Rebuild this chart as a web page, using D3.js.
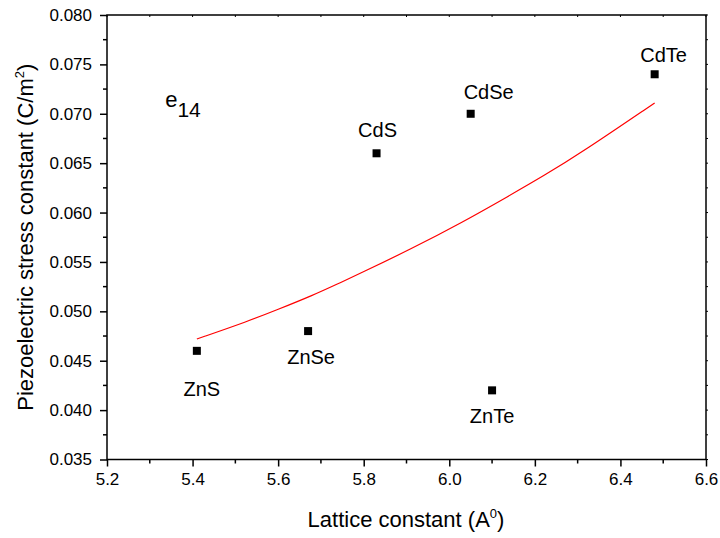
<!DOCTYPE html>
<html>
<head>
<meta charset="utf-8">
<script src="https://cdn.jsdelivr.net/npm/d3@7"></script>
<style>
  body { margin: 0; background: #fff; }
  text { font-family: "Liberation Sans", Arial, sans-serif; fill: #000; }
</style>
</head>
<body>
<div class="chart"></div>
<script>
// compounds and their values
const names = ['ZnS', 'ZnSe', 'CdS', 'CdSe', 'ZnTe', 'CdTe']
const lattice = [5.41, 5.67, 5.83, 6.05, 6.10, 6.48]
const e14 = [0.046, 0.048, 0.066, 0.070, 0.042, 0.074]

// red fitted curve
const fitX = [5.41, 5.53, 5.60, 5.68, 5.74, 5.79, 5.91, 6.03, 6.14, 6.22, 6.31, 6.48]
const fitY = [0.0472, 0.0490, 0.0502, 0.0516, 0.0528, 0.0538, 0.0563, 0.0590, 0.0617, 0.0637, 0.0661, 0.0711]

const xTicks = [5.2, 5.4, 5.6, 5.8, 6.0, 6.2, 6.4, 6.6]
const yTicks = [0.035, 0.040, 0.045, 0.050, 0.055, 0.060, 0.065, 0.070, 0.075, 0.080]

// label placement relative to each square (px)
const labelOffset = {
  ZnS: [5, 45], ZnSe: [3, 33], CdS: [1, -16],
  CdSe: [18, -15], ZnTe: [0, 33], CdTe: [9, -12]
}

const width = 720, height = 538
const margin = { top: 15, right: 14, bottom: 78.5, left: 107 }

const svg = d3.select('.chart')
  .append('svg')
  .attr('width', width)
  .attr('height', height)

const x = d3.scaleLinear()
  .domain([5.2, 6.6])
  .range([margin.left, width - margin.right])

const y = d3.scaleLinear()
  .domain([0.035, 0.080])
  .range([height - margin.bottom, margin.top])

const x0 = x.range()[0], x1 = x.range()[1]
const y0 = y.range()[0], y1 = y.range()[1]

// minor ticks
const xMinor = d3.range(5.3, 6.6, 0.2)
const yMinor = d3.range(0.0375, 0.080, 0.005)

const g = svg.append('g')

g.selectAll('.xminor').data(xMinor).enter().append('line')
  .attr('x1', d => x(d)).attr('x2', d => x(d))
  .attr('y1', y0).attr('y2', y0 + 4)
  .attr('stroke', '#000').attr('stroke-width', 1.5)

g.selectAll('.yminor').data(yMinor).enter().append('line')
  .attr('x1', x0 - 4).attr('x2', x0)
  .attr('y1', d => y(d)).attr('y2', d => y(d))
  .attr('stroke', '#000').attr('stroke-width', 1.5)

// top and right small ticks
g.selectAll('.xtop').data(xTicks.concat(xMinor)).enter().append('line')
  .attr('x1', d => x(d)).attr('x2', d => x(d))
  .attr('y1', y1).attr('y2', y1 + 2)
  .attr('stroke', '#000').attr('stroke-width', 1)

g.selectAll('.yright').data(yTicks.concat(yMinor)).enter().append('line')
  .attr('x1', x1).attr('x2', x1 + 2)
  .attr('y1', d => y(d)).attr('y2', d => y(d))
  .attr('stroke', '#000').attr('stroke-width', 1)

// axes
const xAxis = d3.axisBottom(x)
  .tickValues(xTicks)
  .tickSize(7)
  .tickPadding(6)
  .tickFormat(d3.format('.1f'))

const yAxis = d3.axisLeft(y)
  .tickValues(yTicks)
  .tickSize(7)
  .tickPadding(8)
  .tickFormat(d3.format('.3f'))

const xAxisGroup = svg.append('g')
  .attr('transform', `translate(0, ${y0})`)
  .call(xAxis)

const yAxisGroup = svg.append('g')
  .attr('transform', `translate(${x0}, 0)`)
  .call(yAxis)

;[xAxisGroup, yAxisGroup].forEach(ag => {
  ag.select('.domain').remove()
  ag.selectAll('line').attr('stroke', '#000').attr('stroke-width', 1.5)
  ag.selectAll('text')
    .style('font-family', '"Liberation Sans", Arial, sans-serif')
    .style('font-size', '17px')
    .attr('fill', '#000')
})

// frame
svg.append('rect')
  .attr('x', x0).attr('y', y1)
  .attr('width', x1 - x0).attr('height', y0 - y1)
  .attr('fill', 'none')
  .attr('stroke', '#000')
  .attr('stroke-width', 1.5)

// fitted curve
const fit = fitX.map((d, i) => [d, fitY[i]])
svg.append('path')
  .datum(fit)
  .attr('fill', 'none')
  .attr('stroke', '#ff0000')
  .attr('stroke-width', 1.2)
  .attr('d', d3.line()
    .x(d => x(d[0]))
    .y(d => y(d[1]))
    .curve(d3.curveBasis))

// points
const pts = names.map((n, i) => ({ name: n, a: lattice[i], e: e14[i] }))

svg.selectAll('.pt').data(pts).enter().append('rect')
  .attr('x', d => x(d.a) - 4)
  .attr('y', d => y(d.e) - 4)
  .attr('width', 8)
  .attr('height', 8)
  .attr('fill', '#000')

svg.selectAll('.lbl').data(pts).enter().append('text')
  .attr('x', d => x(d.a) + labelOffset[d.name][0])
  .attr('y', d => y(d.e) + labelOffset[d.name][1])
  .attr('text-anchor', 'middle')
  .style('font-size', '20px')
  .text(d => d.name)

// e14 annotation
const ann = svg.append('text')
  .attr('x', x(5.336))
  .attr('y', y(0.0707))
  .style('font-size', '22px')
ann.append('tspan').text('e')
ann.append('tspan').attr('dy', 10).style('font-size', '21px').text('14')

// axis titles
const xt = svg.append('text')
  .attr('x', 406)
  .attr('y', 527)
  .attr('text-anchor', 'middle')
  .style('font-size', '22px')
xt.append('tspan').text('Lattice constant (A')
xt.append('tspan').attr('dy', -9).style('font-size', '13px').text('0')
xt.append('tspan').attr('dy', 9).text(')')

const yt = svg.append('text')
  .attr('transform', `translate(33, ${(y0 + y1) / 2}) rotate(-90)`)
  .attr('text-anchor', 'middle')
  .style('font-size', '22px')
yt.append('tspan').text('Piezoelectric stress constant (C/m')
yt.append('tspan').attr('dy', -9).style('font-size', '13px').text('2')
yt.append('tspan').attr('dy', 9).text(')')
</script>
</body>
</html>
